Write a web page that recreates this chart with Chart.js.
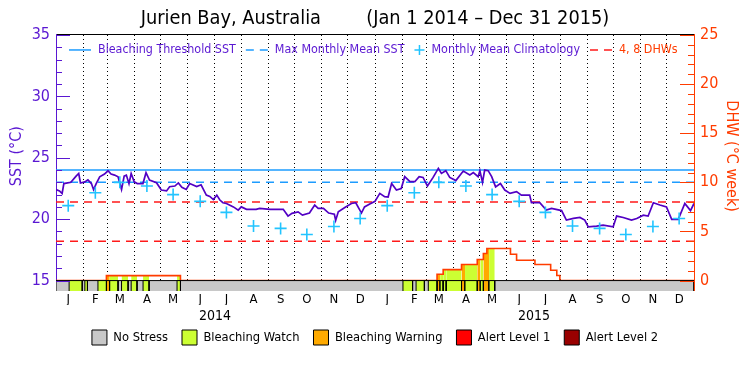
<!DOCTYPE html>
<html>
<head>
<meta charset="utf-8">
<script src="https://cdn.jsdelivr.net/npm/chart.js@4.4.1/dist/chart.umd.min.js"></script>
<style>
  html, body { margin: 0; padding: 0; background: #fff; }
</style>
</head>
<body>
<canvas id="chart" width="750" height="375"></canvas>
<script>
const monthLetters = ['J','F','M','A','M','J','J','A','S','O','N','D'];
const yearLabels = ['2014', '2015'];
const sstTicks = [15, 20, 25, 30, 35];
const dhwTicks = [0, 5, 10, 15, 20, 25];

// monthly mean climatology, Jan..Dec
const climatology = [21.1, 22.15, 23.0, 22.7, 22.0, 21.45, 20.55, 19.45, 19.25, 18.75, 19.4, 20.05];
const bleachingThreshold = 24.0;
const maxMonthlyMean = 23.0;
const dhwMarks = [4, 8];

// SST trace, days since Jan 1 2014
const sstDays = [
  0, 4, 7, 9, 17, 23, 26, 28, 33, 36.5,
  40.5, 43, 46, 50, 55.5, 59.5, 63, 67, 71, 75,
  78, 80.5, 83.5, 86, 89.5, 93, 99.5, 103, 107, 115,
  120.5, 126.5, 130, 136, 140, 144, 149, 153, 161, 166,
  172, 176, 180, 184, 187.5, 191, 195, 203, 208.5, 212,
  218, 229, 233, 245, 260, 265.5, 270, 277, 282, 290,
  296, 300, 306, 312, 318.5, 320, 323, 330.5, 338, 343,
  349.5, 353, 359, 365, 370.5, 376, 380, 384, 389.5, 395,
  399, 405, 410.5, 415.5, 420, 425, 431.5, 437.5, 441, 446,
  450.5, 457.5, 466, 473.5, 477.5, 483, 485, 488, 490.5, 494.5,
  498.5, 503, 508.5, 513.5, 519.5, 527, 532.5, 542, 544, 553.5,
  561, 567, 578.5, 584, 592, 599.5, 605, 609, 618.5, 626,
  637.5, 641.5, 649, 658.5, 664.5, 672, 677.5, 683.5, 691, 698.5,
  704.5, 712, 719.5, 726, 730
];
const sstValues = [
  22.42, 22.3, 22.09, 22.9, 23.0, 23.5, 23.72, 22.95, 23.04, 23.2,
  22.9, 22.4, 22.9, 23.45, 23.67, 23.94, 23.67, 23.59, 23.45, 22.42,
  23.5, 23.59, 22.9, 23.72, 23.04, 22.9, 22.9, 23.78, 23.18, 22.97,
  22.37, 22.3, 22.64, 22.7, 22.95, 22.6, 22.42, 22.9, 22.65, 22.8,
  21.96, 21.85, 21.6, 21.96, 21.56, 21.34, 21.28, 21.0, 20.74, 21.0,
  20.8, 20.8, 20.88, 20.8, 20.8, 20.25, 20.47, 20.6, 20.33, 20.5,
  21.15, 20.88, 20.88, 20.5, 20.4, 19.9, 20.6, 20.95, 21.28, 21.34,
  20.5, 21.0, 21.23, 21.45, 22.1, 21.83, 21.8, 22.9, 22.37, 22.5,
  23.46, 23.05, 23.05, 23.46, 23.4, 22.7, 23.4, 24.14, 23.73, 23.95,
  23.4, 23.14, 23.92, 23.6, 23.8, 23.46, 23.95, 23.0, 24.0, 23.95,
  23.46, 22.63, 22.9, 22.37, 22.1, 22.24, 21.96, 21.96, 21.34, 21.34,
  20.74, 20.88, 20.7, 19.93, 20.06, 20.14, 19.93, 19.38, 19.43, 19.51,
  19.38, 20.25, 20.14, 19.93, 20.06, 20.33, 20.25, 21.34, 21.15, 21.0,
  19.98, 19.98, 21.28, 20.7, 21.28
];

// degree heating weeks, each value holds until the next listed day
const dhwDays = [0, 57.7, 142.4, 436, 443, 464, 482, 489, 493, 520, 527, 548, 566, 573, 576.5, 730];
const dhwValues = [0, 0.5, 0, 0.64, 1.12, 1.63, 2.14, 2.76, 3.27, 2.68, 2.07, 1.63, 1.05, 0.51, 0, 0];

// stress periods (1 = watch, 2 = warning), days since Jan 1 2014
const stressFrom = [15, 33, 48, 57.7, 61.5, 75, 86, 99.6, 138.5,
  397, 412, 426, 436, 439.5, 443, 446.5, 464, 468, 482, 485.5, 489, 495.5];
const stressTo = [30, 36, 57.7, 61.5, 71, 82.5, 92.7, 106.5, 142.4,
  408, 421.5, 436, 439.5, 443, 446.5, 464, 468, 482, 485.5, 489, 495.5, 502];
const stressLevel = [1, 1, 1, 2, 1, 1, 1, 1, 1,
  1, 1, 1, 2, 1, 1, 1, 2, 1, 2, 1, 2, 1];
const stressNames = ['No Stress', 'Bleaching Watch', 'Bleaching Warning', 'Alert Level 1', 'Alert Level 2'];

const topLegendLabels = ['Bleaching Threshold SST', 'Max Monthly Mean SST', 'Monthly Mean Climatology', '4, 8 DHWs'];

const FONT = '"DejaVu Sans Condensed", "Liberation Sans Narrow", "DejaVu Sans", sans-serif';
const purple = '#5a17d2';
const sstLine = '#5200c4';
const blue = '#1d9cff';
const cyan = '#22c4ff';
const red = '#ff1a1a';
const orange = '#ff3c00';
const stressColors = ['#c8c8c8', '#ccff33', '#ffaa00', '#ff0000', '#990000'];

const day0 = Date.UTC(2014, 0, 1);
const dayOf = (y, m, d) => (Date.UTC(y, m, d) - day0) / 864e5;
const endDay = dayOf(2016, 0, 1);
const monthStart = [], monthMid = [], climPoints = [];
[2014, 2015].forEach(y => {
  for (let m = 0; m < 12; m++) {
    monthStart.push(dayOf(y, m, 1));
    monthMid.push(dayOf(y, m, 15));
    climPoints.push({x: dayOf(y, m, 15), y: climatology[m]});
  }
});
const yearMid = [dayOf(2014, 6, 2), dayOf(2015, 6, 2)];

// the stress strip sits below 15 degC / 0 DHW
const stripFrac = 0.0424;
const sstMin = 15, sstMax = 35, dhwMax = 25;
const yBottom = sstMin - (sstMax - sstMin) * stripFrac;
const rBottom = -dhwMax * stripFrac;

function dhwAt(d){
  let v = 0;
  dhwDays.forEach((t, i) => { if (t <= d) v = dhwValues[i]; });
  return v;
}

function stripData(level){
  const pts = [];
  stressFrom.forEach((a, i) => {
    if (stressLevel[i] !== level) return;
    const b = stressTo[i];
    pts.push({x: a, y: yBottom}, {x: a, y: sstMin}, {x: b, y: sstMin}, {x: b, y: yBottom}, {x: b, y: null});
  });
  return pts;
}

function dhwFillData(level){
  const pts = [];
  stressFrom.forEach((a, i) => {
    if (stressLevel[i] !== level) return;
    const b = stressTo[i];
    let v = dhwAt(a);
    pts.push({x: a, y: 0}, {x: a, y: v});
    dhwDays.forEach((t, k) => {
      if (t > a && t < b) {
        pts.push({x: t, y: v});
        v = dhwValues[k];
        pts.push({x: t, y: v});
      }
    });
    pts.push({x: b, y: v}, {x: b, y: 0}, {x: b, y: null});
  });
  return pts;
}

const datasets = [
  {
    label: stressNames[0], stress: true,
    data: [{x: 0, y: yBottom}, {x: 0, y: sstMin}, {x: endDay, y: sstMin}, {x: endDay, y: yBottom}],
    yAxisID: 'y', backgroundColor: stressColors[0], borderColor: '#000', borderWidth: 1,
    fill: 'start', order: 2
  },
  ...[1, 2, 3, 4].map(l => ({
    label: stressNames[l], stress: true, data: stripData(l),
    yAxisID: 'y', backgroundColor: stressColors[l], borderColor: '#000', borderWidth: 1,
    fill: 'start', order: 1
  })),
  ...[1, 2].map(l => ({
    label: 'dhw fill ' + l, data: dhwFillData(l),
    yAxisID: 'yR', backgroundColor: stressColors[l], borderWidth: 0,
    fill: 'origin', order: 9
  })),
  {
    label: 'DHW', data: dhwDays.map((d, i) => ({x: d, y: dhwValues[i]})),
    yAxisID: 'yR', borderColor: orange, borderWidth: 1.6, stepped: 'before', fill: false, order: 8
  },
  {
    label: topLegendLabels[0], data: [{x: 0, y: bleachingThreshold}, {x: endDay, y: bleachingThreshold}],
    yAxisID: 'y', borderColor: blue, borderWidth: 1.5, fill: false, order: 7
  },
  {
    label: topLegendLabels[1], data: [{x: 0, y: maxMonthlyMean}, {x: endDay, y: maxMonthlyMean}],
    yAxisID: 'y', borderColor: blue, borderWidth: 1.5, borderDash: [8, 6], fill: false, order: 7
  },
  ...dhwMarks.map(v => ({
    label: 'DHW ' + v, data: [{x: 0, y: v}, {x: endDay, y: v}],
    yAxisID: 'yR', borderColor: red, borderWidth: 1.5, borderDash: [8, 6], fill: false, order: 7
  })),
  {
    label: 'SST', data: sstDays.map((d, i) => ({x: d, y: sstValues[i]})),
    yAxisID: 'y', borderColor: sstLine, borderWidth: 1.7, fill: false, order: 4
  },
  {
    label: topLegendLabels[2], data: climPoints, yAxisID: 'y', showLine: false,
    pointStyle: 'cross', pointRadius: 6, pointBorderWidth: 1.6, pointBorderColor: cyan, order: 3
  }
];

// tick marks drawn inward from both value axes
const innerTicks = {
  id: 'innerTicks',
  afterDatasetsDraw(chart){
    const {ctx, chartArea: a, scales} = chart;
    ctx.save();
    ctx.lineWidth = 1;
    ctx.strokeStyle = purple;
    for (let v = sstMin; v <= sstMax; v++){
      const py = Math.round(scales.y.getPixelForValue(v)) + 0.5;
      ctx.beginPath(); ctx.moveTo(a.left, py); ctx.lineTo(a.left + (v % 5 ? 6 : 14), py); ctx.stroke();
    }
    ctx.strokeStyle = orange;
    for (let v = 0; v <= dhwMax; v++){
      const py = Math.round(scales.yR.getPixelForValue(v)) + 0.5;
      ctx.beginPath(); ctx.moveTo(a.right, py); ctx.lineTo(a.right - (v % 5 ? 6 : 14), py); ctx.stroke();
    }
    ctx.restore();
  }
};

const topLegend = {
  id: 'topLegend',
  afterDatasetsDraw(chart){
    const {ctx, chartArea: a} = chart;
    const marks = [
      {kind: 'line', color: blue, text: purple},
      {kind: 'dash', color: blue, text: purple},
      {kind: 'cross', color: cyan, text: purple},
      {kind: 'dash', color: red, text: orange}
    ];
    ctx.save();
    ctx.font = '12.4px ' + FONT;
    ctx.textBaseline = 'middle';
    const y = a.top + 15;
    let x = a.left + 13;
    topLegendLabels.forEach((label, i) => {
      const m = marks[i];
      ctx.strokeStyle = m.color;
      ctx.lineWidth = 1.5;
      ctx.beginPath();
      if (m.kind === 'cross'){
        ctx.moveTo(x, y); ctx.lineTo(x + 10, y);
        ctx.moveTo(x + 5, y - 5); ctx.lineTo(x + 5, y + 5);
        ctx.stroke();
        x += 17;
      } else {
        ctx.setLineDash(m.kind === 'dash' ? [8, 6] : []);
        ctx.moveTo(x, y); ctx.lineTo(x + 22, y);
        ctx.stroke();
        ctx.setLineDash([]);
        x += 29;
      }
      ctx.fillStyle = m.text;
      ctx.fillText(label, x, y);
      x += ctx.measureText(label).width + 10;
    });
    ctx.restore();
  }
};

Chart.defaults.font.family = FONT;
Chart.defaults.color = '#000';

new Chart(document.getElementById('chart').getContext('2d'), {
  type: 'line',
  data: {datasets: datasets},
  plugins: [innerTicks, topLegend],
  options: {
    responsive: false,
    devicePixelRatio: 1,
    animation: false,
    events: [],
    layout: {padding: {left: 0, right: 0, top: 0, bottom: 20}},
    elements: {point: {radius: 0}, line: {tension: 0}},
    plugins: {
      title: {
        display: true,
        text: 'Jurien Bay, Australia        (Jan 1 2014 \u2013 Dec 31 2015)',
        color: '#000',
        font: {size: 19.8, weight: 'normal'},
        padding: {top: 7, bottom: 4.2}
      },
      legend: {
        position: 'bottom',
        labels: {
          filter: (item, data) => !!data.datasets[item.datasetIndex].stress,
          sort: (a, b) => a.datasetIndex - b.datasetIndex,
          boxWidth: 15, boxHeight: 15, padding: 14,
          color: '#000', font: {size: 12.8}
        }
      },
      tooltip: {enabled: false}
    },
    scales: {
      x: {
        type: 'linear', position: 'bottom', min: 0, max: endDay, weight: 0,
        afterBuildTicks: s => { s.ticks = monthMid.map(v => ({value: v})); },
        afterFit: s => { s.height = 14; },
        grid: {display: false, drawTicks: false},
        border: {display: true, color: '#000', width: 1},
        ticks: {autoSkip: false, maxRotation: 0, padding: 1, color: '#000', font: {size: 13},
          callback: (v, i) => monthLetters[i % 12]}
      },
      xy: {
        // mirrored so the year labels are not clipped to this thin axis box
        type: 'linear', position: 'bottom', min: 0, max: endDay, weight: 1,
        afterBuildTicks: s => { s.ticks = yearMid.map(v => ({value: v})); },
        afterFit: s => { s.height = 11; },
        grid: {display: false, drawTicks: false},
        border: {display: false},
        ticks: {autoSkip: false, maxRotation: 0, mirror: true, padding: -19.5, color: '#000', font: {size: 14},
          callback: (v, i) => yearLabels[i]}
      },
      xg: {
        type: 'linear', position: 'top', min: 0, max: endDay,
        afterBuildTicks: s => { s.ticks = monthStart.slice(1).map(v => ({value: v})); },
        afterFit: s => { s.height = 0; },
        grid: {display: true, drawTicks: false, color: '#000', lineWidth: 1},
        border: {display: true, color: '#000', width: 1, dash: [1, 3]},
        ticks: {display: false}
      },
      y: {
        type: 'linear', position: 'left', min: yBottom, max: sstMax,
        afterBuildTicks: s => { s.ticks = sstTicks.map(v => ({value: v})); },
        afterFit: s => { s.width = 56; },
        grid: {display: false, drawTicks: false},
        border: {display: true, color: purple, width: 1},
        ticks: {color: purple, padding: 6, font: {size: 16}},
        title: {display: true, text: '   SST (\u00b0C)', color: purple, font: {size: 16}, padding: {top: 7, bottom: 0}}
      },
      yR: {
        type: 'linear', position: 'right', min: rBottom, max: dhwMax,
        afterBuildTicks: s => { s.ticks = dhwTicks.map(v => ({value: v})); },
        afterFit: s => { s.width = 56; },
        grid: {display: false, drawTicks: false},
        border: {display: true, color: orange, width: 1},
        ticks: {color: orange, padding: 6, font: {size: 16}},
        title: {display: true, text: 'DHW (\u00b0C week)   ', color: orange, font: {size: 16}, padding: {top: 9, bottom: 0}}
      }
    }
  }
});
</script>
</body>
</html>
